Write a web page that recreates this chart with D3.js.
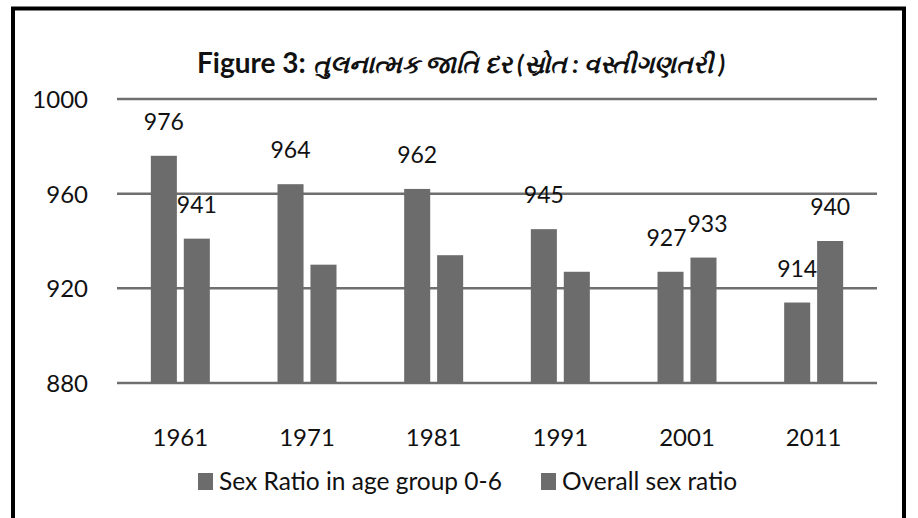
<!DOCTYPE html>
<html>
<head>
<meta charset="utf-8">
<script src="https://cdn.jsdelivr.net/npm/d3@7"></script>
<style>
  html, body { margin: 0; padding: 0; background: #ffffff; }
  svg { display: block; }
  text { font-family: Lato, "Noto Sans", sans-serif; fill: #111; }
</style>
</head>
<body>
<svg id="chart" width="918" height="518"></svg>
<script>
const titleLatin = "Figure 3: ";
const titleGujarati = "તુલનાત્મક જાતિ દર (સ્રોત : વસ્તીગણતરી )";
const years = ["1961", "1971", "1981", "1991", "2001", "2011"];
const seriesNames = ["Sex Ratio in age group 0-6", "Overall sex ratio"];
const childSexRatio = [976, 964, 962, 945, 927, 914];
const overallSexRatio = [941, 930, 934, 927, 933, 940];
const childLabels = ["976", "964", "962", "945", "927", "914"];
const overallLabels = ["941", "", "", "", "933", "940"];
const yTicks = [880, 920, 960, 1000];

const svg = d3.select("#chart");
const W = 918, H = 518;
svg.append("rect").attr("x", 0).attr("y", 0).attr("width", W).attr("height", H).attr("fill", "#fff");

// frame
svg.append("path")
  .attr("d", "M13,518 L13,8.5 L904,8.5 L904,518")
  .attr("fill", "none").attr("stroke", "#000").attr("stroke-width", 4);

const y = d3.scaleLinear().domain([880, 1000]).range([383, 99]);
const x0 = d3.scaleBand().domain(years).range([117, 877]).padding(0);
const bw = x0.bandwidth();
const x1 = d3.scaleBand().domain(seriesNames)
  .range([bw / 2 - 29.5, bw / 2 + 29.5]).paddingInner(0.21).paddingOuter(0);

// gridlines
svg.append("g").selectAll("line").data(yTicks).join("line")
  .attr("x1", 117).attr("x2", 877)
  .attr("y1", d => y(d)).attr("y2", d => y(d))
  .attr("stroke", "#6f6f6f").attr("stroke-width", 2.5);

// y axis labels
const yAxis = d3.axisLeft(y).tickValues(yTicks).tickSize(0).tickPadding(0).tickFormat(d3.format("d"));
const gy = svg.append("g").attr("transform", "translate(88,0)").call(yAxis);
gy.select(".domain").remove();
gy.selectAll("text").attr("font-size", 24).attr("font-family", "Lato, 'Noto Sans', sans-serif")
  .attr("fill", "#111").attr("dy", "0.36em");

// bars
const rows = years.map((yr, i) => ({
  year: yr,
  vals: [
    { key: seriesNames[0], v: childSexRatio[i], label: childLabels[i] },
    { key: seriesNames[1], v: overallSexRatio[i], label: overallLabels[i] }
  ]
}));

const groups = svg.append("g").selectAll("g").data(rows).join("g")
  .attr("transform", d => `translate(${x0(d.year)},0)`);

groups.selectAll("rect").data(d => d.vals).join("rect")
  .attr("x", d => x1(d.key))
  .attr("width", x1.bandwidth())
  .attr("y", d => y(d.v))
  .attr("height", d => y(880) - y(d.v))
  .attr("fill", "#6c6c6c");

// value labels
groups.each(function () {
  const g = d3.select(this);
  const ts = g.selectAll("text.val").data(d => d.vals).join("text")
    .attr("class", "val")
    .attr("x", d => x1(d.key) + x1.bandwidth() / 2)
    .attr("y", d => y(d.v) - 26)
    .attr("text-anchor", "middle")
    .attr("font-size", 23)
    .text(d => d.label);
  // resolve horizontal overlaps within a group
  const nodes = ts.nodes().filter(n => n.textContent);
  if (nodes.length === 2) {
    const a = nodes[0].getBBox(), b = nodes[1].getBBox();
    const overlap = (a.x + a.width) - b.x;
    const vOverlap = Math.min(a.y + a.height, b.y + b.height) - Math.max(a.y, b.y);
    if (overlap > -1 && vOverlap > 0) {
      const s = (overlap + 1) / 2;
      d3.select(nodes[0]).attr("x", +nodes[0].getAttribute("x") - s);
      d3.select(nodes[1]).attr("x", +nodes[1].getAttribute("x") + s);
    }
  }
});

// x axis labels
const xAxis = d3.axisBottom(x0).tickSize(0).tickPadding(0);
const gx = svg.append("g").attr("transform", "translate(0,446)").call(xAxis);
gx.select(".domain").remove();
gx.selectAll("text").attr("font-size", 24).attr("font-family", "Lato, 'Noto Sans', sans-serif")
  .attr("fill", "#111").attr("dy", 0);

// legend
const legendX = [198, 541];
const lg = svg.append("g").selectAll("g").data(seriesNames).join("g")
  .attr("transform", (d, i) => `translate(${legendX[i]},473)`);
lg.append("rect").attr("width", 15).attr("height", 17).attr("fill", "#6c6c6c");
lg.append("text").attr("x", 21).attr("y", 17).attr("font-size", 24.5).text(d => d);

// title
const title = svg.append("text").attr("x", 197).attr("y", 73).attr("font-weight", "bold");
title.append("tspan").attr("font-size", 28).text(titleLatin);
title.append("tspan").attr("font-size", 25).attr("font-style", "italic").text(titleGujarati);
</script>
</body>
</html>
